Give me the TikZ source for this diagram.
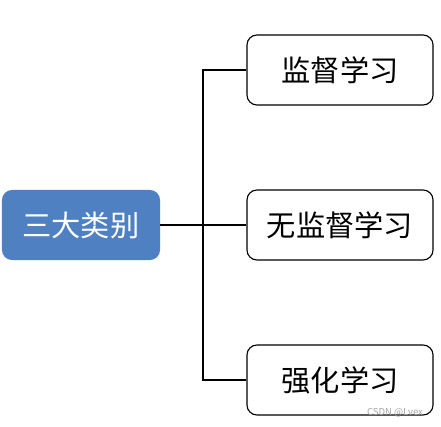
\documentclass[tikz,border=0pt]{standalone}
\usepackage{fontspec}
\setmainfont{Noto Sans CJK SC}
\usetikzlibrary{positioning}
\definecolor{rootblue}{RGB}{79,129,194}

\begin{document}
\begin{tikzpicture}[
    x=0.025cm, y=0.025cm,
    rootbox/.style={fill=rootblue, text=white, rounded corners=0.25cm,
                    minimum width=3.95cm, minimum height=1.75cm,
                    inner sep=0pt, font=\fontsize{20.8}{24}\selectfont},
    leaf/.style={draw, line width=0.8pt, rounded corners=0.25cm,
                 minimum width=4.65cm, minimum height=1.75cm,
                 inner sep=0pt, font=\fontsize{20.8}{24}\selectfont},
    link/.style={draw, line width=0.8pt}
  ]
  \useasboundingbox (0,0) rectangle (441,427);

  % Root
  \node[rootbox] (root) at (81, 202) {三大类别};
  \coordinate (hub) at (203, 202);

  % Leaves
  \foreach \t [count=\i] in {监督学习,无监督学习,强化学习} {
    \node[leaf] (c\i) at (340, 512-155*\i) {\t};
    \draw[link] (root.east) -- (hub) |- (c\i.west);
  }

  % Watermark
  \node[font=\fontsize{6.8}{8}\selectfont, text=black!35] (mark) at (395, 14) {CSDN @Lvex};
\end{tikzpicture}
\end{document}
